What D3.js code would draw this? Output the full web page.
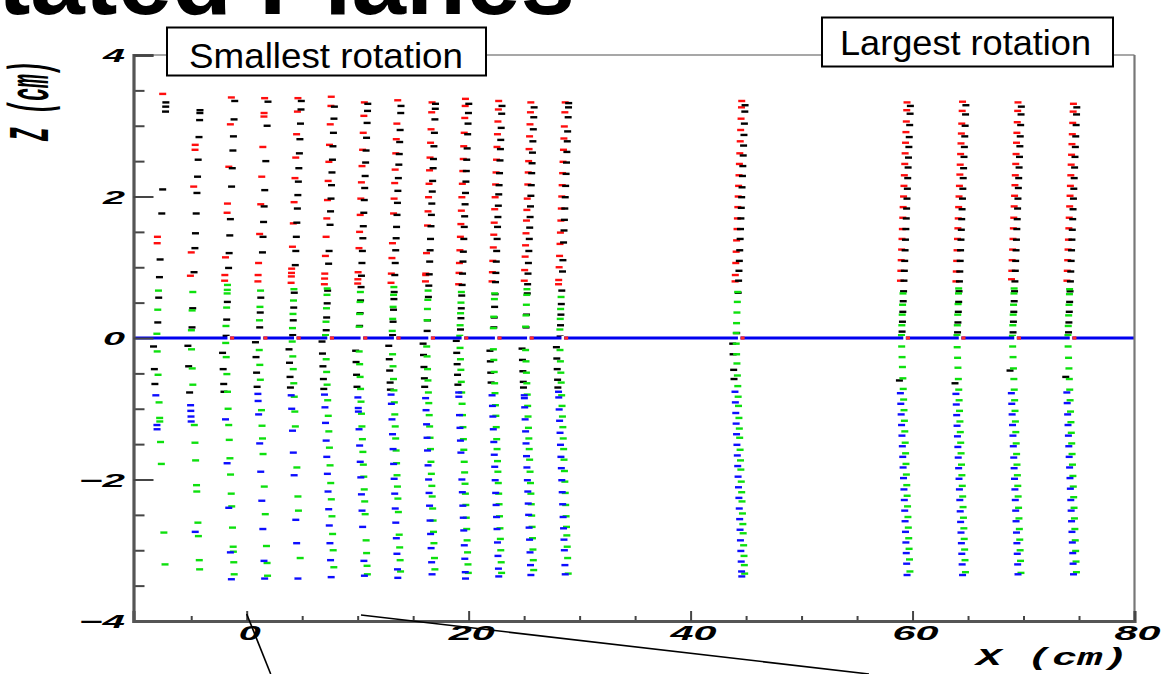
<!DOCTYPE html>
<html>
<head>
<meta charset="utf-8">
<script src="https://cdn.jsdelivr.net/npm/d3@7"></script>
<style>
  html, body { margin: 0; padding: 0; background: #fff; overflow: hidden; }
  svg { display: block; }
</style>
</head>
<body>
<svg id="chart" width="1163" height="674"></svg>
<script>
// Plane positions along X (cm)
const planeX = [-7.8, -4.7, -1.6, 1.4, 4.4, 7.4, 10.4, 13.4, 16.5, 19.5, 22.5, 25.4, 28.5, 44.4, 59.3, 64.3, 69.3, 74.3];

// Hit Z positions (cm) per plane, grouped by marker colour
const redZ = [
  [3.45, 1.43, 1.34],
  [2.73, 2.66, 2.14, 1.21, 0.88],
  [3.40, 3.02, 2.42, 1.90, 1.77, 1.14, 0.89, 0.81],
  [3.39, 3.18, 3.13, 2.70, 2.28, 1.89, 1.47, 1.06, 0.89, 0.80],
  [3.39, 3.20, 2.88, 2.55, 2.26, 1.92, 1.62, 1.29, 0.98, 0.92, 0.87, 0.78],
  [3.41, 3.28, 3.02, 2.73, 2.49, 2.22, 1.95, 1.69, 1.43, 1.16, 0.91, 0.84, 0.76],
  [3.33, 3.14, 2.90, 2.66, 2.43, 2.20, 1.97, 1.74, 1.50, 1.27, 0.93, 0.83, 0.77],
  [3.36, 3.03, 2.81, 2.61, 2.38, 2.19, 1.97, 1.76, 1.34, 1.13, 0.91, 0.78],
  [3.33, 3.19, 2.95, 2.76, 2.55, 2.37, 2.18, 1.99, 1.79, 1.59, 1.20, 0.91, 0.89, 0.80],
  [3.38, 3.28, 3.11, 2.90, 2.71, 2.53, 2.36, 2.18, 1.99, 1.80, 1.61, 1.43, 1.24, 1.06, 0.92, 0.76],
  [3.35, 3.23, 3.06, 2.88, 2.70, 2.52, 2.34, 2.17, 1.99, 1.82, 1.63, 1.46, 1.28, 1.09, 0.93, 0.80],
  [3.33, 3.19, 3.02, 2.85, 2.67, 2.50, 2.34, 2.17, 1.97, 1.81, 1.66, 1.48, 1.31, 1.15, 0.96, 0.81],
  [3.33, 3.19, 2.99, 2.82, 2.66, 2.49, 2.33, 2.16, 2.00, 1.83, 1.66, 1.49, 1.33, 1.16, 1.00, 0.82, 0.76],
  [3.35, 3.26, 3.10, 2.94, 2.78, 2.61, 2.46, 2.30, 2.15, 2.00, 1.85, 1.69, 1.54, 1.38, 1.22, 1.06, 0.89, 0.80],
  [3.33, 3.22, 3.06, 2.91, 2.76, 2.61, 2.46, 2.30, 2.15, 2.00, 1.85, 1.70, 1.54, 1.40, 1.25, 1.10, 0.95, 0.81],
  [3.34, 3.21, 3.03, 2.89, 2.75, 2.60, 2.45, 2.31, 2.15, 2.00, 1.85, 1.69, 1.55, 1.40, 1.24, 1.09, 0.94, 0.80],
  [3.33, 3.21, 3.05, 2.90, 2.76, 2.60, 2.46, 2.30, 2.16, 2.01, 1.86, 1.70, 1.55, 1.40, 1.25, 1.10, 0.95, 0.83],
  [3.31, 3.20, 3.04, 2.88, 2.74, 2.59, 2.45, 2.30, 2.15, 2.01, 1.86, 1.70, 1.55, 1.39, 1.25, 1.10, 0.95, 0.81]
];
const blackZ = [
  [3.33, 3.27, 3.20, 2.10, 1.76, 1.11, 0.86, 0.57, 0.22, -0.12, -0.44, -0.65],
  [3.22, 3.18, 3.08, 2.84, 2.52, 2.28, 2.05, 1.76, 1.48, 1.27, 0.93, 0.42, 0.15, -0.11, -0.40, -0.77],
  [3.35, 3.09, 2.85, 2.65, 2.40, 2.14, 1.68, 1.45, 1.20, 0.99, 0.51, 0.26, 0.03, -0.21, -0.44, -0.65, -0.76],
  [3.34, 3.00, 2.50, 2.09, 1.86, 1.64, 1.43, 1.21, 0.57, 0.36, 0.15, -0.06, -0.27, -0.49, -0.69],
  [3.35, 3.23, 3.03, 2.81, 2.61, 2.40, 2.21, 2.02, 1.83, 1.63, 1.43, 1.23, 1.03, 0.64, 0.43, 0.25, 0.04, -0.16, -0.35, -0.55, -0.70],
  [3.27, 3.10, 2.90, 2.71, 2.52, 2.34, 2.16, 1.97, 1.79, 1.60, 1.23, 1.05, 0.67, 0.49, 0.29, 0.11, -0.05, -0.22, -0.40, -0.58, -0.72],
  [3.31, 3.21, 3.04, 2.83, 2.65, 2.48, 2.29, 2.12, 1.95, 1.77, 1.58, 1.41, 1.23, 1.06, 0.88, 0.72, 0.53, 0.35, 0.17, -0.18, -0.34, -0.52, -0.69],
  [3.28, 3.18, 2.94, 2.77, 2.60, 2.45, 2.26, 2.08, 1.91, 1.74, 1.57, 1.41, 1.24, 1.06, 0.89, 0.65, 0.55, 0.40, 0.23, 0.04, -0.11, -0.30, -0.46, -0.63, -0.73],
  [3.31, 3.24, 3.09, 2.90, 2.71, 2.53, 2.40, 2.22, 2.07, 1.90, 1.74, 1.58, 1.40, 1.24, 1.08, 0.90, 0.74, 0.58, 0.25, 0.10, -0.08, -0.24, -0.41, -0.57, -0.69],
  [3.31, 3.18, 3.03, 2.88, 2.68, 2.52, 2.36, 2.21, 2.05, 1.89, 1.72, 1.57, 1.40, 1.22, 1.08, 0.91, 0.75, 0.60, 0.42, 0.28, 0.12, -0.04, -0.21, -0.37, -0.52, -0.66],
  [3.28, 3.17, 2.97, 2.80, 2.67, 2.51, 2.33, 2.16, 2.03, 1.87, 1.71, 1.57, 1.40, 1.23, 1.08, 0.92, 0.79, 0.62, 0.44, 0.29, 0.15, -0.18, -0.33, -0.49, -0.63],
  [3.26, 3.12, 2.95, 2.78, 2.62, 2.47, 2.33, 2.16, 2.01, 1.86, 1.71, 1.56, 1.40, 1.23, 1.06, 0.91, 0.76, 0.63, 0.33, 0.15, -0.15, -0.31, -0.47, -0.62, -0.70],
  [3.32, 3.26, 3.12, 2.92, 2.78, 2.63, 2.48, 2.32, 2.15, 1.99, 1.83, 1.67, 1.52, 1.35, 1.10, 0.94, 0.67, 0.48, 0.33, 0.18, 0.02, -0.13, -0.29, -0.44, -0.59, -0.70],
  [3.29, 3.20, 3.03, 2.87, 2.72, 2.58, 2.43, 2.29, 2.13, 1.99, 1.84, 1.69, 1.54, 1.40, 1.24, 1.09, 0.95, 0.81, 0.64, 0.07, -0.08, -0.23, -0.45, -0.58],
  [3.28, 3.17, 3.01, 2.84, 2.70, 2.55, 2.41, 2.26, 2.11, 1.97, 1.83, 1.69, 1.54, 1.39, 1.24, 1.09, 0.95, 0.81, 0.66, 0.52, 0.37, 0.23, 0.09, -0.60],
  [3.29, 3.16, 3.00, 2.85, 2.70, 2.56, 2.40, 2.26, 2.11, 1.97, 1.82, 1.68, 1.53, 1.39, 1.24, 1.09, 0.94, 0.80, 0.66, 0.51, 0.37, 0.22, 0.08, -0.64],
  [3.27, 3.16, 3.01, 2.85, 2.71, 2.56, 2.41, 2.26, 2.12, 1.97, 1.83, 1.68, 1.54, 1.39, 1.24, 1.09, 0.95, 0.80, 0.66, 0.52, 0.37, 0.23, 0.08, -0.46],
  [3.26, 3.16, 3.01, 2.85, 2.70, 2.56, 2.41, 2.26, 2.11, 1.97, 1.82, 1.68, 1.53, 1.39, 1.24, 1.09, 0.94, 0.80, 0.66, 0.51, 0.37, 0.22, 0.08, -0.55]
];
const greenZ = [
  [0.67, 0.40, 0.06, -0.19, -0.52, -0.91, -1.13, -1.18, -1.47, -1.78, -2.75, -3.20],
  [0.65, 0.39, 0.11, -0.16, -0.43, -0.66, -1.23, -1.48, -1.73, -2.08, -2.17, -2.61, -2.80, -3.14, -3.27],
  [0.75, 0.68, 0.63, 0.43, 0.17, -0.07, -0.27, -0.51, -0.76, -1.00, -1.23, -1.44, -1.70, -1.93, -2.20, -2.38, -2.68, -2.95, -3.02, -3.17, -3.34],
  [0.67, 0.44, 0.25, -0.17, -0.38, -0.59, -1.02, -1.24, -1.42, -1.64, -2.10, -2.49, -2.94, -3.18, -3.36],
  [0.69, 0.53, 0.34, 0.14, -0.05, -0.26, -0.44, -0.64, -0.83, -1.04, -1.25, -1.83, -2.24, -2.44, -3.11],
  [0.70, 0.61, 0.42, 0.23, 0.04, -0.30, -0.48, -0.66, -0.88, -1.10, -1.32, -1.55, -1.80, -2.05, -2.28, -2.52, -2.77, -3.00, -3.24],
  [0.65, 0.51, 0.34, 0.16, -0.19, -0.37, -0.55, -0.72, -0.90, -1.07, -1.25, -1.43, -1.61, -1.79, -1.96, -2.14, -2.31, -2.49, -2.86, -3.04, -3.22, -3.34],
  [0.72, 0.61, 0.44, 0.27, 0.10, -0.23, -0.40, -0.58, -0.74, -0.91, -1.08, -1.25, -1.42, -1.59, -1.77, -1.94, -2.10, -2.27, -2.46, -2.78, -2.96, -3.14, -3.30],
  [0.67, 0.54, 0.41, 0.25, -0.12, -0.26, -0.44, -0.60, -0.77, -0.92, -1.09, -1.25, -1.41, -1.57, -1.75, -1.92, -2.09, -2.24, -2.41, -2.58, -2.74, -2.90, -3.11, -3.27],
  [0.65, 0.50, 0.35, 0.18, 0.03, -0.14, -0.30, -0.45, -0.62, -0.77, -0.93, -1.09, -1.26, -1.43, -1.58, -1.75, -1.90, -2.06, -2.20, -2.36, -2.54, -2.70, -2.86, -3.03, -3.20, -3.32],
  [0.63, 0.55, 0.30, 0.14, -0.16, -0.31, -0.48, -0.64, -0.78, -0.95, -1.10, -1.26, -1.43, -1.57, -1.74, -1.89, -2.05, -2.20, -2.35, -2.52, -2.69, -2.84, -3.00, -3.17, -3.32],
  [0.69, 0.61, 0.47, 0.32, 0.16, -0.17, -0.33, -0.49, -0.64, -0.80, -0.96, -1.11, -1.27, -1.42, -1.57, -1.72, -1.89, -2.05, -2.20, -2.35, -2.51, -2.67, -2.83, -2.99, -3.14, -3.28],
  [0.58, 0.41, 0.27, 0.12, -0.17, -0.33, -0.49, -0.63, -0.81, -0.96, -1.11, -1.26, -1.42, -1.57, -1.72, -1.88, -2.03, -2.19, -2.36, -2.52, -2.67, -2.79, -2.95, -3.11, -3.33],
  [0.65, 0.51, 0.36, 0.21, 0.07, -0.08, -0.23, -0.36, -0.53, -0.68, -0.83, -0.96, -1.13, -1.28, -1.41, -1.58, -1.73, -1.86, -2.03, -2.18, -2.31, -2.48, -2.63, -2.76, -2.93, -3.08, -3.21, -3.33],
  [0.63, 0.47, 0.33, 0.18, 0.04, -0.12, -0.27, -0.41, -0.57, -0.72, -0.87, -1.02, -1.17, -1.32, -1.48, -1.63, -1.78, -1.93, -2.08, -2.23, -2.38, -2.53, -2.68, -2.83, -2.98, -3.13, -3.30],
  [0.70, 0.63, 0.48, 0.33, 0.18, 0.04, -0.13, -0.28, -0.42, -0.58, -0.73, -0.88, -1.03, -1.18, -1.33, -1.48, -1.63, -1.79, -1.94, -2.09, -2.24, -2.39, -2.54, -2.69, -2.84, -2.99, -3.14, -3.31],
  [0.70, 0.63, 0.47, 0.33, 0.18, 0.03, -0.12, -0.27, -0.43, -0.58, -0.73, -0.88, -1.03, -1.18, -1.33, -1.49, -1.64, -1.79, -1.94, -2.09, -2.24, -2.40, -2.55, -2.70, -2.85, -3.00, -3.15, -3.32],
  [0.69, 0.62, 0.47, 0.32, 0.17, 0.04, -0.12, -0.28, -0.43, -0.58, -0.73, -0.88, -1.04, -1.19, -1.34, -1.49, -1.64, -1.79, -1.95, -2.10, -2.25, -2.40, -2.55, -2.70, -2.86, -3.01, -3.16, -3.31]
];
const blueZ = [
  [-0.81, -1.23, -1.29],
  [-0.95, -1.03, -1.11, -1.18, -2.74],
  [-1.15, -1.77, -2.40, -3.03, -3.41],
  [-0.79, -0.89, -1.08, -1.49, -1.89, -2.30, -2.70, -3.15, -3.40],
  [-0.81, -1.00, -1.31, -1.62, -1.94, -2.57, -2.90, -3.40],
  [-0.80, -0.98, -1.20, -1.45, -1.68, -1.92, -2.17, -2.42, -2.65, -2.90, -3.14, -3.38],
  [-0.84, -0.99, -1.04, -1.29, -1.52, -1.75, -1.97, -2.21, -2.44, -2.67, -3.15, -3.36],
  [-0.80, -0.93, -1.15, -1.36, -1.57, -1.78, -1.99, -2.20, -2.41, -2.61, -2.83, -3.05, -3.27, -3.39],
  [-0.85, -1.02, -1.22, -1.41, -1.59, -1.80, -2.00, -2.19, -2.37, -2.58, -2.77, -2.97, -3.17, -3.34],
  [-0.77, -0.83, -1.09, -1.27, -1.45, -1.62, -2.00, -2.18, -2.37, -2.54, -2.72, -2.93, -3.12, -3.31, -3.40],
  [-0.81, -0.96, -1.11, -1.29, -1.47, -1.65, -1.82, -2.01, -2.19, -2.36, -2.53, -2.70, -2.89, -3.08, -3.26, -3.37],
  [-0.81, -0.85, -0.98, -1.15, -1.32, -1.49, -1.67, -1.83, -2.01, -2.17, -2.34, -2.50, -2.68, -2.85, -3.03, -3.21, -3.35],
  [-0.76, -0.84, -1.01, -1.17, -1.34, -1.51, -1.68, -1.84, -2.01, -2.18, -2.35, -2.53, -2.69, -2.85, -3.00, -3.21, -3.34],
  [-0.76, -0.91, -1.06, -1.21, -1.36, -1.51, -1.66, -1.81, -1.96, -2.11, -2.26, -2.41, -2.56, -2.71, -2.86, -3.01, -3.16, -3.30, -3.37],
  [-0.78, -0.93, -1.08, -1.23, -1.38, -1.53, -1.68, -1.83, -1.98, -2.14, -2.29, -2.44, -2.59, -2.74, -2.89, -3.04, -3.19, -3.35],
  [-0.79, -0.94, -1.09, -1.24, -1.39, -1.54, -1.69, -1.84, -1.99, -2.14, -2.29, -2.45, -2.60, -2.75, -2.90, -3.05, -3.20, -3.35],
  [-0.78, -0.93, -1.08, -1.23, -1.38, -1.53, -1.69, -1.84, -1.99, -2.14, -2.29, -2.44, -2.59, -2.75, -2.90, -3.05, -3.20, -3.34],
  [-0.77, -0.92, -1.08, -1.23, -1.38, -1.53, -1.68, -1.83, -1.98, -2.13, -2.29, -2.44, -2.59, -2.74, -2.89, -3.04, -3.19, -3.34]
];

// Axis ticks and labels
const xMajorTicks = [0, 20, 40, 60, 80];
const xTickLabels = ["0", "20", "40", "60", "80"];
const zMajorTicks = [-4, -2, 0, 2, 4];
const zTickLabels = ["\u22124", "\u22122", "0", "2", "4"];
const titleText = "Rotated Planes";
const xTitle = "X (cm)";
const zTitle = "Z (cm)";
const notes = ["Smallest rotation", "Largest rotation"];

const svg = d3.select("#chart");

const x = d3.scaleLinear().domain([-10.2, 80]).range([133.5, 1134.5]);
const y = d3.scaleLinear().domain([-4, 4]).range([621, 55]);

const defs = svg.append("defs");
defs.append("filter").attr("id", "soft")
  .attr("x", "-50%").attr("y", "-50%").attr("width", "200%").attr("height", "200%")
  .append("feGaussianBlur").attr("stdDeviation", 0.7);
defs.append("filter").attr("id", "axisSoft")
  .append("feGaussianBlur").attr("stdDeviation", 0.5);

// Title (large, mostly above the page top)
svg.append("text")
  .attr("x", -133).attr("y", 14)
  .attr("font-family", "Liberation Sans, Arial, sans-serif")
  .attr("font-weight", "bold")
  .attr("font-size", 98)
  .attr("fill", "#000")
  .text(titleText);

// Hits: short dashes, each plane bending slightly away from the mid-plane
const groups = [
  { name: "red",   data: redZ,   fill: "#ff1010", dx: z => -2 },
  { name: "black", data: blackZ, fill: "#000000", dx: z => (z > 0 ? 1.5 : -2.5) },
  { name: "green", data: greenZ, fill: "#10e010", dx: z => 1 },
  { name: "blue",  data: blueZ,  fill: "#1010ff", dx: z => -2 }
];
const bend = 2.6; // px per cm of |z|

const hitLayer = svg.append("g").attr("filter", "url(#soft)");
groups.forEach(gr => {
  const pts = [];
  gr.data.forEach((zs, i) => zs.forEach(z => pts.push({ px: planeX[i], z })));
  hitLayer.append("g").attr("class", "hits-" + gr.name)
    .selectAll("rect").data(pts).join("rect")
    .attr("x", d => x(d.px) + gr.dx(d.z) + bend * (Math.abs(d.z) - 1.7) - 3.5)
    .attr("y", d => y(d.z) - 1.2)
    .attr("width", 7)
    .attr("height", 2.4)
    .attr("fill", gr.fill);
});

// Mid-plane line at Z = 0
svg.append("line")
  .attr("x1", x(-10.2)).attr("x2", x(80))
  .attr("y1", y(0)).attr("y2", y(0))
  .attr("stroke", "#0000f0").attr("stroke-width", 3);

// Crossing marks where each plane meets Z = 0
const cross = svg.append("g").attr("filter", "url(#soft)");
cross.selectAll("rect.gap").data(planeX.slice(2)).join("rect")
  .attr("class", "gap")
  .attr("x", d => x(d) - 1.5).attr("y", y(0) - 2)
  .attr("width", 2.5).attr("height", 4).attr("fill", "#fff");
cross.selectAll("rect.mark").data(planeX.slice(2)).join("rect")
  .attr("class", "mark")
  .attr("x", d => x(d) + 1.2).attr("y", y(0) - 1.6)
  .attr("width", 4).attr("height", 3.2).attr("fill", "#ff2a2a");

// Frame
const frame = svg.append("g").attr("filter", "url(#axisSoft)");
frame.append("line")
  .attr("x1", x(-10.2)).attr("x2", x(80)).attr("y1", y(4)).attr("y2", y(4))
  .attr("stroke", "#8a8a8a").attr("stroke-width", 1.5);
frame.append("line")
  .attr("x1", x(80)).attr("x2", x(80)).attr("y1", y(4)).attr("y2", y(-4))
  .attr("stroke", "#777").attr("stroke-width", 2.2);

// Z axis (ticks point into the frame)
const zAxis = svg.append("g")
  .attr("transform", `translate(${x(-10.2)},0)`)
  .attr("filter", "url(#axisSoft)");
zAxis.call(d3.axisLeft(y).tickValues(d3.range(-4, 4.01, 0.5).filter(v => v % 2 !== 0)).tickSize(-11).tickFormat(""));
zAxis.call(g => g.select(".domain").remove());
const zAxisMajor = svg.append("g")
  .attr("transform", `translate(${x(-10.2)},0)`)
  .attr("filter", "url(#axisSoft)");
zAxisMajor.call(d3.axisLeft(y).tickValues(zMajorTicks).tickSize(-20).tickFormat(""));
zAxisMajor.selectAll("line").attr("stroke", "#444").attr("stroke-width", 2);
zAxis.selectAll("line").attr("stroke", "#444").attr("stroke-width", 2);
zAxisMajor.select(".domain").attr("stroke", "#555").attr("stroke-width", 3.2);

// X axis (ticks point into the frame)
const xAxis = svg.append("g")
  .attr("transform", `translate(0,${y(-4)})`)
  .attr("filter", "url(#axisSoft)");
xAxis.call(d3.axisBottom(x).tickValues(d3.range(-5, 80, 5).filter(v => v % 20 !== 0)).tickSize(-5).tickFormat(""));
xAxis.call(g => g.select(".domain").remove());
const xAxisMajor = svg.append("g")
  .attr("transform", `translate(0,${y(-4)})`)
  .attr("filter", "url(#axisSoft)");
xAxisMajor.call(d3.axisBottom(x).tickValues(xMajorTicks).tickSize(-10).tickFormat(""));
xAxis.selectAll("line").attr("stroke", "#444").attr("stroke-width", 2);
xAxisMajor.selectAll("line").attr("stroke", "#444").attr("stroke-width", 2);
xAxisMajor.select(".domain").attr("stroke", "#555").attr("stroke-width", 3.2);

// Tick labels
const tickFont = "Liberation Sans, Arial, sans-serif";
svg.append("g").selectAll("text").data(zMajorTicks).join("text")
  .attr("x", 125)
  .attr("y", d => y(d) + 7)
  .attr("text-anchor", "end")
  .attr("font-family", tickFont).attr("font-weight", "bold").attr("font-style", "italic")
  .attr("font-size", 19)
  .attr("textLength", (d, i) => zTickLabels[i].length > 1 ? 46 : 22)
  .attr("lengthAdjust", "spacingAndGlyphs")
  .text((d, i) => zTickLabels[i]);

svg.append("g").selectAll("text").data(xMajorTicks).join("text")
  .attr("x", d => x(d) + 3)
  .attr("y", 640)
  .attr("text-anchor", "middle")
  .attr("font-family", tickFont).attr("font-weight", "bold").attr("font-style", "italic")
  .attr("font-size", 20)
  .attr("textLength", (d, i) => xTickLabels[i].length > 1 ? 46 : 22)
  .attr("lengthAdjust", "spacingAndGlyphs")
  .text((d, i) => xTickLabels[i]);

// Axis titles (stretched monospace, as drawn by the plotting package)
svg.append("text")
  .attr("transform", "translate(976,665) scale(1.76,1)")
  .attr("font-family", "Liberation Mono, DejaVu Sans Mono, monospace")
  .attr("font-weight", "bold").attr("font-style", "italic")
  .attr("font-size", 24)
  .text(xTitle);

svg.append("text")
  .attr("transform", "translate(48,101) rotate(-90) scale(0.383,1)")
  .attr("text-anchor", "middle")
  .attr("font-family", "Liberation Mono, DejaVu Sans Mono, monospace")
  .attr("font-weight", "bold").attr("font-style", "italic")
  .attr("font-size", 58)
  .text(zTitle);

// Pointer lines below the axis
const pointers = svg.append("g").attr("stroke", "#000").attr("stroke-width", 1.6);
pointers.append("line").attr("x1", x(0)).attr("y1", 614).attr("x2", x(0) + 24).attr("y2", 674);
pointers.append("line").attr("x1", x(10.3)).attr("y1", 615).attr("x2", x(10.3) + 508).attr("y2", 674);

// Annotation boxes
const boxes = [
  { x: 167, y: 27.5, w: 319, h: 48, tx: 189, ty: 68, len: 274, text: notes[0] },
  { x: 822, y: 17.5, w: 291, h: 49, tx: 840, ty: 55, len: 251, text: notes[1] }
];
const boxG = svg.append("g");
boxes.forEach(b => {
  boxG.append("rect")
    .attr("x", b.x).attr("y", b.y).attr("width", b.w).attr("height", b.h)
    .attr("fill", "#fff").attr("stroke", "#000").attr("stroke-width", 2);
  boxG.append("text")
    .attr("x", b.tx).attr("y", b.ty)
    .attr("font-family", "Liberation Sans, Arial, sans-serif")
    .attr("font-size", 35)
    .attr("textLength", b.len).attr("lengthAdjust", "spacingAndGlyphs")
    .attr("fill", "#000")
    .text(b.text);
});
</script>
</body>
</html>
